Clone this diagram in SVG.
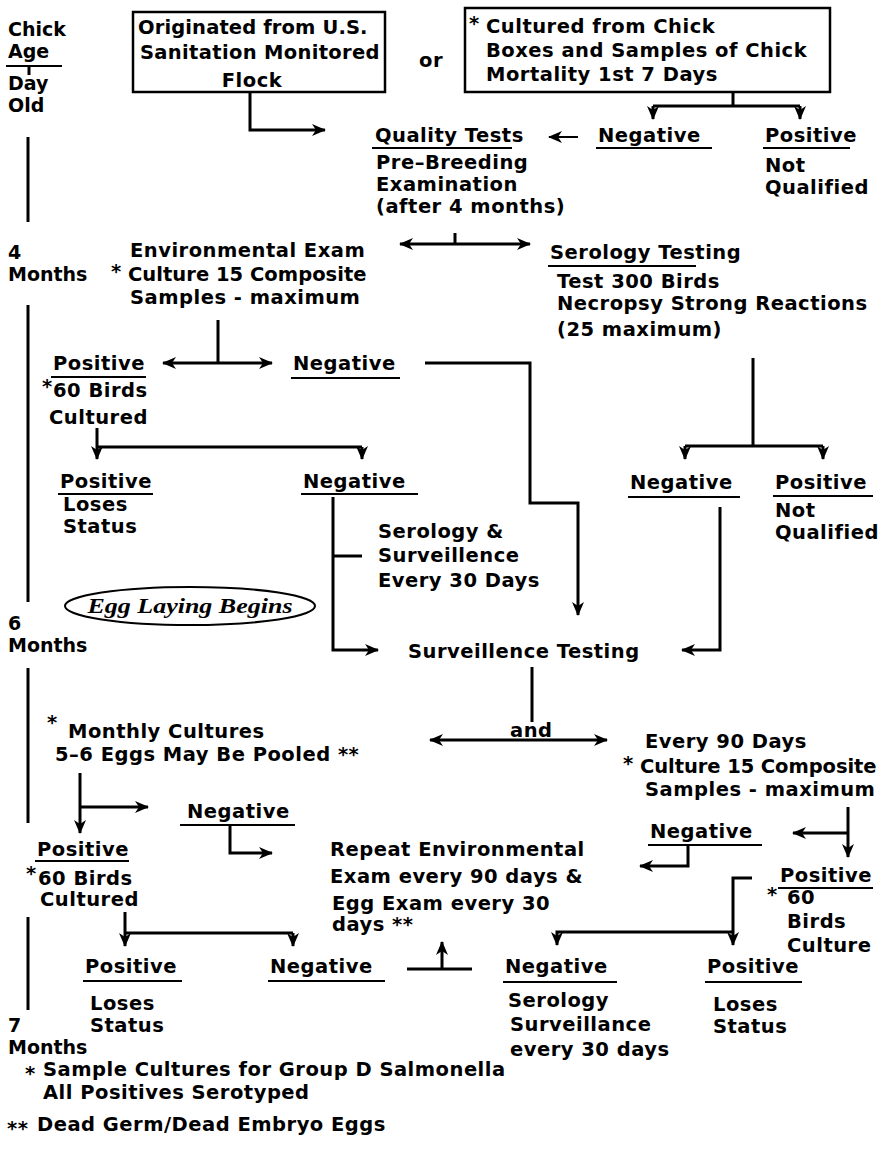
<svg xmlns="http://www.w3.org/2000/svg" width="884" height="1169" viewBox="0 0 884 1169">
<defs>
<style>
.t{font-family:"DejaVu Sans","Liberation Sans",sans-serif;font-weight:bold;font-size:19.5px;letter-spacing:0.5px;fill:#000}
.s{font-size:19px;letter-spacing:0}
.e{font-family:"Liberation Serif",serif;font-weight:bold;font-style:italic;font-size:22px;fill:#000}
.c{fill:none;stroke:#000;stroke-width:3}
.u{fill:none;stroke:#000;stroke-width:2}
.b{fill:none;stroke:#000;stroke-width:2.5}
.a{marker-end:url(#ah)}
.d{marker-start:url(#ah);marker-end:url(#ah)}
</style>
<marker id="ah" viewBox="0 0 14 12" refX="13" refY="6" markerWidth="14" markerHeight="12" markerUnits="userSpaceOnUse" orient="auto-start-reverse">
<path d="M0,0 L14,6 L0,12 L4,6 Z" fill="#000"/>
</marker>
</defs>
<rect width="884" height="1169" fill="#fff"/>

<g id="timeline">
<text class="t s" x="8" y="36">Chick</text>
<text class="t s" x="8" y="58">Age</text>
<path class="u" d="M6,66 H62"/>
<path class="c" d="M29,66 V75"/>
<text class="t s" x="8" y="90">Day</text>
<text class="t s" x="8" y="112">Old</text>
<path class="c" d="M28,137 V222 M28,305 V602 M28,668 V823 M28,917 V1010"/>
<text class="t s" x="8" y="259">4</text>
<text class="t s" x="8" y="281">Months</text>
<text class="t s" x="8" y="630">6</text>
<text class="t s" x="8" y="652">Months</text>
<text class="t s" x="8" y="1032">7</text>
<text class="t s" x="8" y="1054">Months</text>
</g>

<g id="origin-box">
<rect x="133" y="12" width="252" height="80" class="b"/>
<text class="t" x="138" y="34" textLength="230">Originated from U.S.</text>
<text class="t" x="140" y="59" textLength="240">Sanitation Monitored</text>
<text class="t" x="252" y="87" text-anchor="middle">Flock</text>
</g>

<g id="or-label"><text class="t" x="419" y="67">or</text></g>

<g id="cultured-box">
<rect x="465" y="8" width="365" height="84" class="b"/>
<text class="t" x="469" y="30">*<tspan x="486" y="33">Cultured from Chick</tspan></text>
<text class="t" x="486" y="57">Boxes and Samples of Chick</text>
<text class="t" x="486" y="81">Mortality 1st 7 Days</text>
</g>

<g id="quality-tests">
<text class="t" x="375" y="142">Quality Tests</text>
<path class="u" d="M372,148 H512"/>
<text class="t" x="376" y="169">Pre–Breeding</text>
<text class="t" x="376" y="191">Examination</text>
<text class="t" x="376" y="213">(after 4 months)</text>
</g>

<g id="neg1">
<text class="t" x="598" y="142">Negative</text>
<path class="u" d="M596,148 H712"/>
</g>
<g id="pos1">
<text class="t" x="765" y="142">Positive</text>
<path class="u" d="M763,148 H850"/>
<text class="t" x="765" y="172">Not</text>
<text class="t" x="765" y="194">Qualified</text>
</g>

<g id="env-exam">
<text class="t" x="130" y="257">Environmental Exam</text>
<text class="t" x="111" y="278">*<tspan x="128" y="281" textLength="239">Culture 15 Composite</tspan></text>
<text class="t" x="130" y="304">Samples - maximum</text>
</g>

<g id="serology">
<text class="t" x="550" y="259">Serology Testing</text>
<path class="u" d="M548,266 H696"/>
<text class="t" x="557" y="288">Test 300 Birds</text>
<text class="t" x="557" y="310">Necropsy Strong Reactions</text>
<text class="t" x="557" y="336">(25 maximum)</text>
</g>

<g id="pos2">
<text class="t" x="53" y="370">Positive</text>
<path class="u" d="M51,377 H146"/>
<text class="t" x="42" y="393">*<tspan x="53" y="397">60 Birds</tspan></text>
<text class="t" x="49" y="424">Cultured</text>
</g>
<g id="neg2">
<text class="t" x="293" y="370">Negative</text>
<path class="u" d="M291,378 H400"/>
</g>

<g id="pos3">
<text class="t" x="60" y="488">Positive</text>
<path class="u" d="M58,494 H153"/>
<text class="t" x="63" y="511">Loses</text>
<text class="t" x="63" y="533">Status</text>
</g>
<g id="neg3">
<text class="t" x="303" y="488">Negative</text>
<path class="u" d="M301,494 H418"/>
</g>
<g id="serology-surv">
<text class="t" x="378" y="538">Serology &amp;</text>
<text class="t" x="378" y="562">Surveillence</text>
<text class="t" x="378" y="587">Every 30 Days</text>
</g>
<g id="neg4">
<text class="t" x="630" y="489">Negative</text>
<path class="u" d="M628,497 H740"/>
</g>
<g id="pos4">
<text class="t" x="775" y="489">Positive</text>
<path class="u" d="M773,496 H873"/>
<text class="t" x="775" y="517">Not</text>
<text class="t" x="775" y="539">Qualified</text>
</g>

<g id="egg-laying">
<ellipse cx="190" cy="606" rx="125" ry="19" class="u"/>
<text class="e" x="190" y="613" text-anchor="middle" textLength="205" lengthAdjust="spacingAndGlyphs">Egg Laying Begins</text>
</g>

<g id="surv-testing"><text class="t" x="408" y="658">Surveillence Testing</text></g>
<g id="and-label"><text class="t" x="510" y="737">and</text></g>

<g id="monthly">
<text class="t" x="47" y="729">*<tspan x="68" y="738">Monthly Cultures</tspan></text>
<text class="t" x="55" y="761">5–6 Eggs May Be Pooled **</text>
</g>
<g id="every90">
<text class="t" x="645" y="748">Every 90 Days</text>
<text class="t" x="623" y="770">*<tspan x="640" y="773" textLength="237">Culture 15 Composite</tspan></text>
<text class="t" x="645" y="796">Samples - maximum</text>
</g>

<g id="neg5">
<text class="t" x="187" y="818">Negative</text>
<path class="u" d="M180,825 H295"/>
</g>
<g id="pos5">
<text class="t" x="37" y="856">Positive</text>
<path class="u" d="M35,861 H129"/>
<text class="t" x="26" y="880">*<tspan x="38" y="885">60 Birds</tspan></text>
<text class="t" x="40" y="906">Cultured</text>
</g>
<g id="repeat">
<text class="t" x="330" y="856">Repeat Environmental</text>
<text class="t" x="330" y="883">Exam every 90 days &amp;</text>
<text class="t" x="332" y="910">Egg Exam every 30</text>
<text class="t" x="332" y="931">days **</text>
</g>
<g id="neg6">
<text class="t" x="650" y="838">Negative</text>
<path class="u" d="M648,845 H762"/>
</g>
<g id="pos6">
<text class="t" x="780" y="882">Positive</text>
<path class="u" d="M778,888 H873"/>
<text class="t" x="767" y="901">*<tspan x="787" y="904">60</tspan></text>
<text class="t" x="787" y="928">Birds</text>
<text class="t" x="787" y="952">Culture</text>
</g>

<g id="pos7">
<text class="t" x="85" y="973">Positive</text>
<path class="u" d="M83,981 H182"/>
<text class="t" x="90" y="1010">Loses</text>
<text class="t" x="90" y="1032">Status</text>
</g>
<g id="neg7">
<text class="t" x="270" y="973">Negative</text>
<path class="u" d="M268,981 H385"/>
</g>
<g id="neg8">
<text class="t" x="505" y="973">Negative</text>
<path class="u" d="M503,982 H617"/>
<text class="t" x="508" y="1007">Serology</text>
<text class="t" x="510" y="1031">Surveillance</text>
<text class="t" x="510" y="1056">every 30 days</text>
</g>
<g id="pos8">
<text class="t" x="707" y="973">Positive</text>
<path class="u" d="M705,982 H802"/>
<text class="t" x="713" y="1011">Loses</text>
<text class="t" x="713" y="1033">Status</text>
</g>

<g id="footnotes">
<text class="t" x="25" y="1080">*<tspan x="43" y="1076">Sample Cultures for Group D Salmonella</tspan></text>
<text class="t" x="43" y="1099">All Positives Serotyped</text>
<text class="t" x="7" y="1135">**<tspan x="37" y="1131">Dead Germ/Dead Embryo Eggs</tspan></text>
</g>

<g id="connectors">
<path class="c a" d="M250,92 V130 H325"/>
<path class="c" d="M733,92 V106 M653,106 H800"/>
<path class="c a" d="M653,106 V119"/>
<path class="c a" d="M800,106 V119"/>
<path class="u a" d="M578,137 H549"/>
<path class="c d" d="M400,244 H530"/>
<path class="c" d="M455,244 V233"/>
<path class="c" d="M218,320 V363"/>
<path class="c d" d="M163,363 H272"/>
<path class="c a" d="M425,363 H530 V503 H578 V615"/>
<path class="c" d="M753,358 V446 M685,446 H823"/>
<path class="c a" d="M685,446 V459"/>
<path class="c a" d="M823,446 V459"/>
<path class="c" d="M97,428 V447 M97,447 H362"/>
<path class="c a" d="M97,447 V459"/>
<path class="c a" d="M362,447 V459"/>
<path class="c a" d="M333,497 V650 H378"/>
<path class="c" d="M333,556 H362"/>
<path class="c a" d="M720,507 V650 H682"/>
<path class="c" d="M532,667 V722"/>
<path class="c d" d="M430,740 H607"/>
<path class="c a" d="M80,773 V833"/>
<path class="c a" d="M80,807 H148"/>
<path class="c a" d="M230,825 V853 H272"/>
<path class="c a" d="M848,807 V857"/>
<path class="c a" d="M848,833 H793"/>
<path class="c a" d="M688,845 V866 H640"/>
<path class="c a" d="M752,878 H733 V945"/>
<path class="c a" d="M733,932 H557 V945"/>
<path class="c" d="M125,912 V933 M125,933 H293"/>
<path class="c a" d="M125,933 V946"/>
<path class="c a" d="M293,933 V946"/>
<path class="c" d="M407,969 H472"/>
<path class="c a" d="M442,969 V942"/>
</g>
</svg>
